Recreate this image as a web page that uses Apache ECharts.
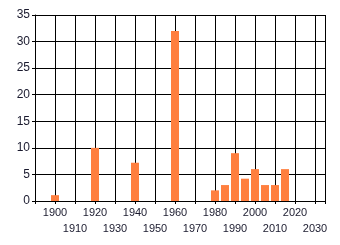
<!DOCTYPE html>
<html>
<head>
<meta charset="utf-8">
<script src="https://cdn.jsdelivr.net/npm/echarts@6/dist/echarts.min.js"></script>
<style>html,body{margin:0;padding:0;background:#fff;}#c{width:340px;height:245px;}</style>
</head>
<body>
<div id="c"></div>
<script>
var years = [1900, 1920, 1940, 1960, 1980, 1985, 1990, 1995, 2000, 2005, 2010, 2015];
var values = [1.1, 10, 7.2, 32, 2, 3, 9, 4.2, 6, 3, 3, 6];
var yTicks = [0, 5, 10, 15, 20, 25, 30, 35];
var xTicks = [1900, 1910, 1920, 1930, 1940, 1950, 1960, 1970, 1980, 1990, 2000, 2010, 2020, 2030];

var chart = echarts.init(document.getElementById('c'), null, {renderer: 'canvas'});
chart.setOption({
  animation: false,
  backgroundColor: '#fff',
  grid: {left: 35, right: 15, top: 15, bottom: 44, containLabel: false},
  xAxis: {
    type: 'value', min: 1890, max: 2035, interval: 10,
    axisLine: {show: true, onZero: false, lineStyle: {color: '#000', width: 1}},
    axisTick: {show: true, length: 3, lineStyle: {color: '#000'}},
    splitLine: {show: true, lineStyle: {color: '#000', width: 1}},
    axisLabel: {
      margin: 4, fontSize: 11, fontFamily: 'Liberation Sans', color: '#1a1a2e', lineHeight: 16,
      showMinLabel: true, showMaxLabel: true,
      formatter: function (v) {
        if (xTicks.indexOf(v) < 0) return '';
        return (v % 20 === 0) ? String(v) : '\n' + v;
      }
    }
  },
  yAxis: {
    type: 'value', min: 0, max: 35, interval: 5,
    axisLine: {show: true, lineStyle: {color: '#000', width: 1}},
    axisTick: {show: true, length: 3, lineStyle: {color: '#000'}},
    splitLine: {show: true, lineStyle: {color: '#000', width: 1}},
    axisLabel: {
      margin: 5, fontSize: 12, fontFamily: 'Liberation Sans', color: '#1a1a2e',
      formatter: function (v) { return yTicks.indexOf(v) >= 0 ? String(v) : ''; }
    }
  },
  series: [{
    type: 'bar',
    barWidth: 8,
    itemStyle: {color: '#ff7f3f'},
    data: years.map(function (y, i) { return [y, values[i]]; })
  }]
});
</script>
</body>
</html>
